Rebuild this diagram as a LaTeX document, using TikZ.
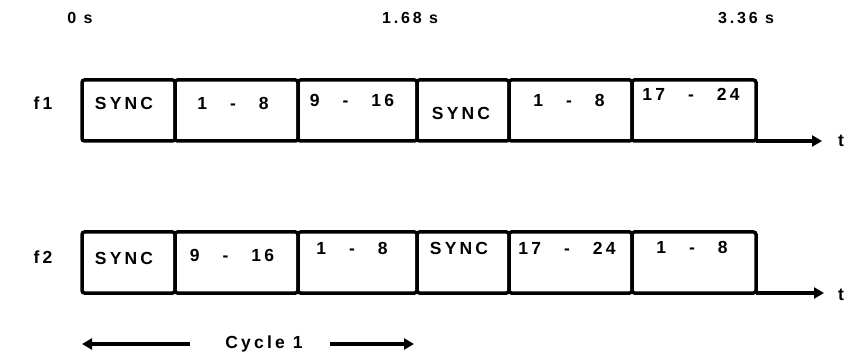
\documentclass[tikz,border=0pt]{standalone}
\usepackage{fontspec}
\setmainfont{Liberation Sans}
\newfontfamily\spacedfont[LetterSpace=18]{Liberation Sans}
\usetikzlibrary{arrows.meta}
\newcommand\dgap{\hspace{23pt}}

\tikzset{
  cell/.style={draw, line width=3.5pt, rounded corners=2.5pt, minimum height=61pt,
    inner sep=0pt, outer sep=0pt, anchor=north west},
  celltext/.style={font=\spacedfont\bfseries\fontsize{17.5}{20}\selectfont, inner sep=0pt},
  timetext/.style={font=\spacedfont\bfseries\fontsize{16}{19}\selectfont, inner sep=0pt},
  axis/.style={line width=3.5pt, -{Triangle[length=10pt,width=11pt]}},
}

\begin{document}
\begin{tikzpicture}[x=1pt, y=-1pt]
\useasboundingbox (0,0) rectangle (846,358);

% time marks
\node[timetext] (t0) at (80,18) {0 s};
\node[timetext] (t1) at (410,18) {1.68 s};
\node[timetext] (t2) at (746,18) {3.36 s};

% channel labels
\node[celltext] (f1) at (43,103) {f1};
\node[celltext] (f2) at (43,257) {f2};

% channel f1 frame
\node[cell, minimum width=93pt]  (a1) at (82,80)  {};
\node[cell, minimum width=123pt] (a2) at (175,80) {};
\node[cell, minimum width=119pt] (a3) at (298,80) {};
\node[cell, minimum width=92pt]  (a4) at (417,80) {};
\node[cell, minimum width=123pt] (a5) at (509,80) {};
\node[cell, minimum width=124pt] (a6) at (632,80) {};

\node[celltext] (a1t) at (124,103) {SYNC};
\node[celltext] (a2t) at (233,103) {1\dgap-\dgap8};
\node[celltext] (a3t) at (352,100) {9\dgap-\dgap16};
\node[celltext] (a4t) at (461,113) {SYNC};
\node[celltext] (a5t) at (569,100) {1\dgap-\dgap8};
\node[celltext] (a6t) at (691,94)  {17\dgap-\dgap24};

\coordinate (ae) at (822,141);
\draw[axis] (a6.south east) -- (ae);
\node[celltext, anchor=west] (ta) at (838,141) {t};

% channel f2 frame
\node[cell, minimum width=93pt]  (b1) at (82,232)  {};
\node[cell, minimum width=123pt] (b2) at (175,232) {};
\node[cell, minimum width=119pt] (b3) at (298,232) {};
\node[cell, minimum width=92pt]  (b4) at (417,232) {};
\node[cell, minimum width=123pt] (b5) at (509,232) {};
\node[cell, minimum width=124pt] (b6) at (632,232) {};

\node[celltext] (b1t) at (124,258) {SYNC};
\node[celltext] (b2t) at (232,255) {9\dgap-\dgap16};
\node[celltext] (b3t) at (352,248) {1\dgap-\dgap8};
\node[celltext] (b4t) at (459,248) {SYNC};
\node[celltext] (b5t) at (567,248) {17\dgap-\dgap24};
\node[celltext] (b6t) at (692,247) {1\dgap-\dgap8};

\coordinate (be) at (824,293);
\draw[axis] (b6.south east) -- (be);
\node[celltext, anchor=west] (tb) at (838,295) {t};

% cycle span
\node[celltext] (cyc) at (264,344) {Cycle 1};
\coordinate (c0) at (82,344);
\coordinate (c1) at (414,344);
\draw[axis] ([xshift=-35pt]cyc.west) -- (c0);
\draw[axis] ([xshift=27pt]cyc.east) -- (c1);
\end{tikzpicture}
\end{document}
